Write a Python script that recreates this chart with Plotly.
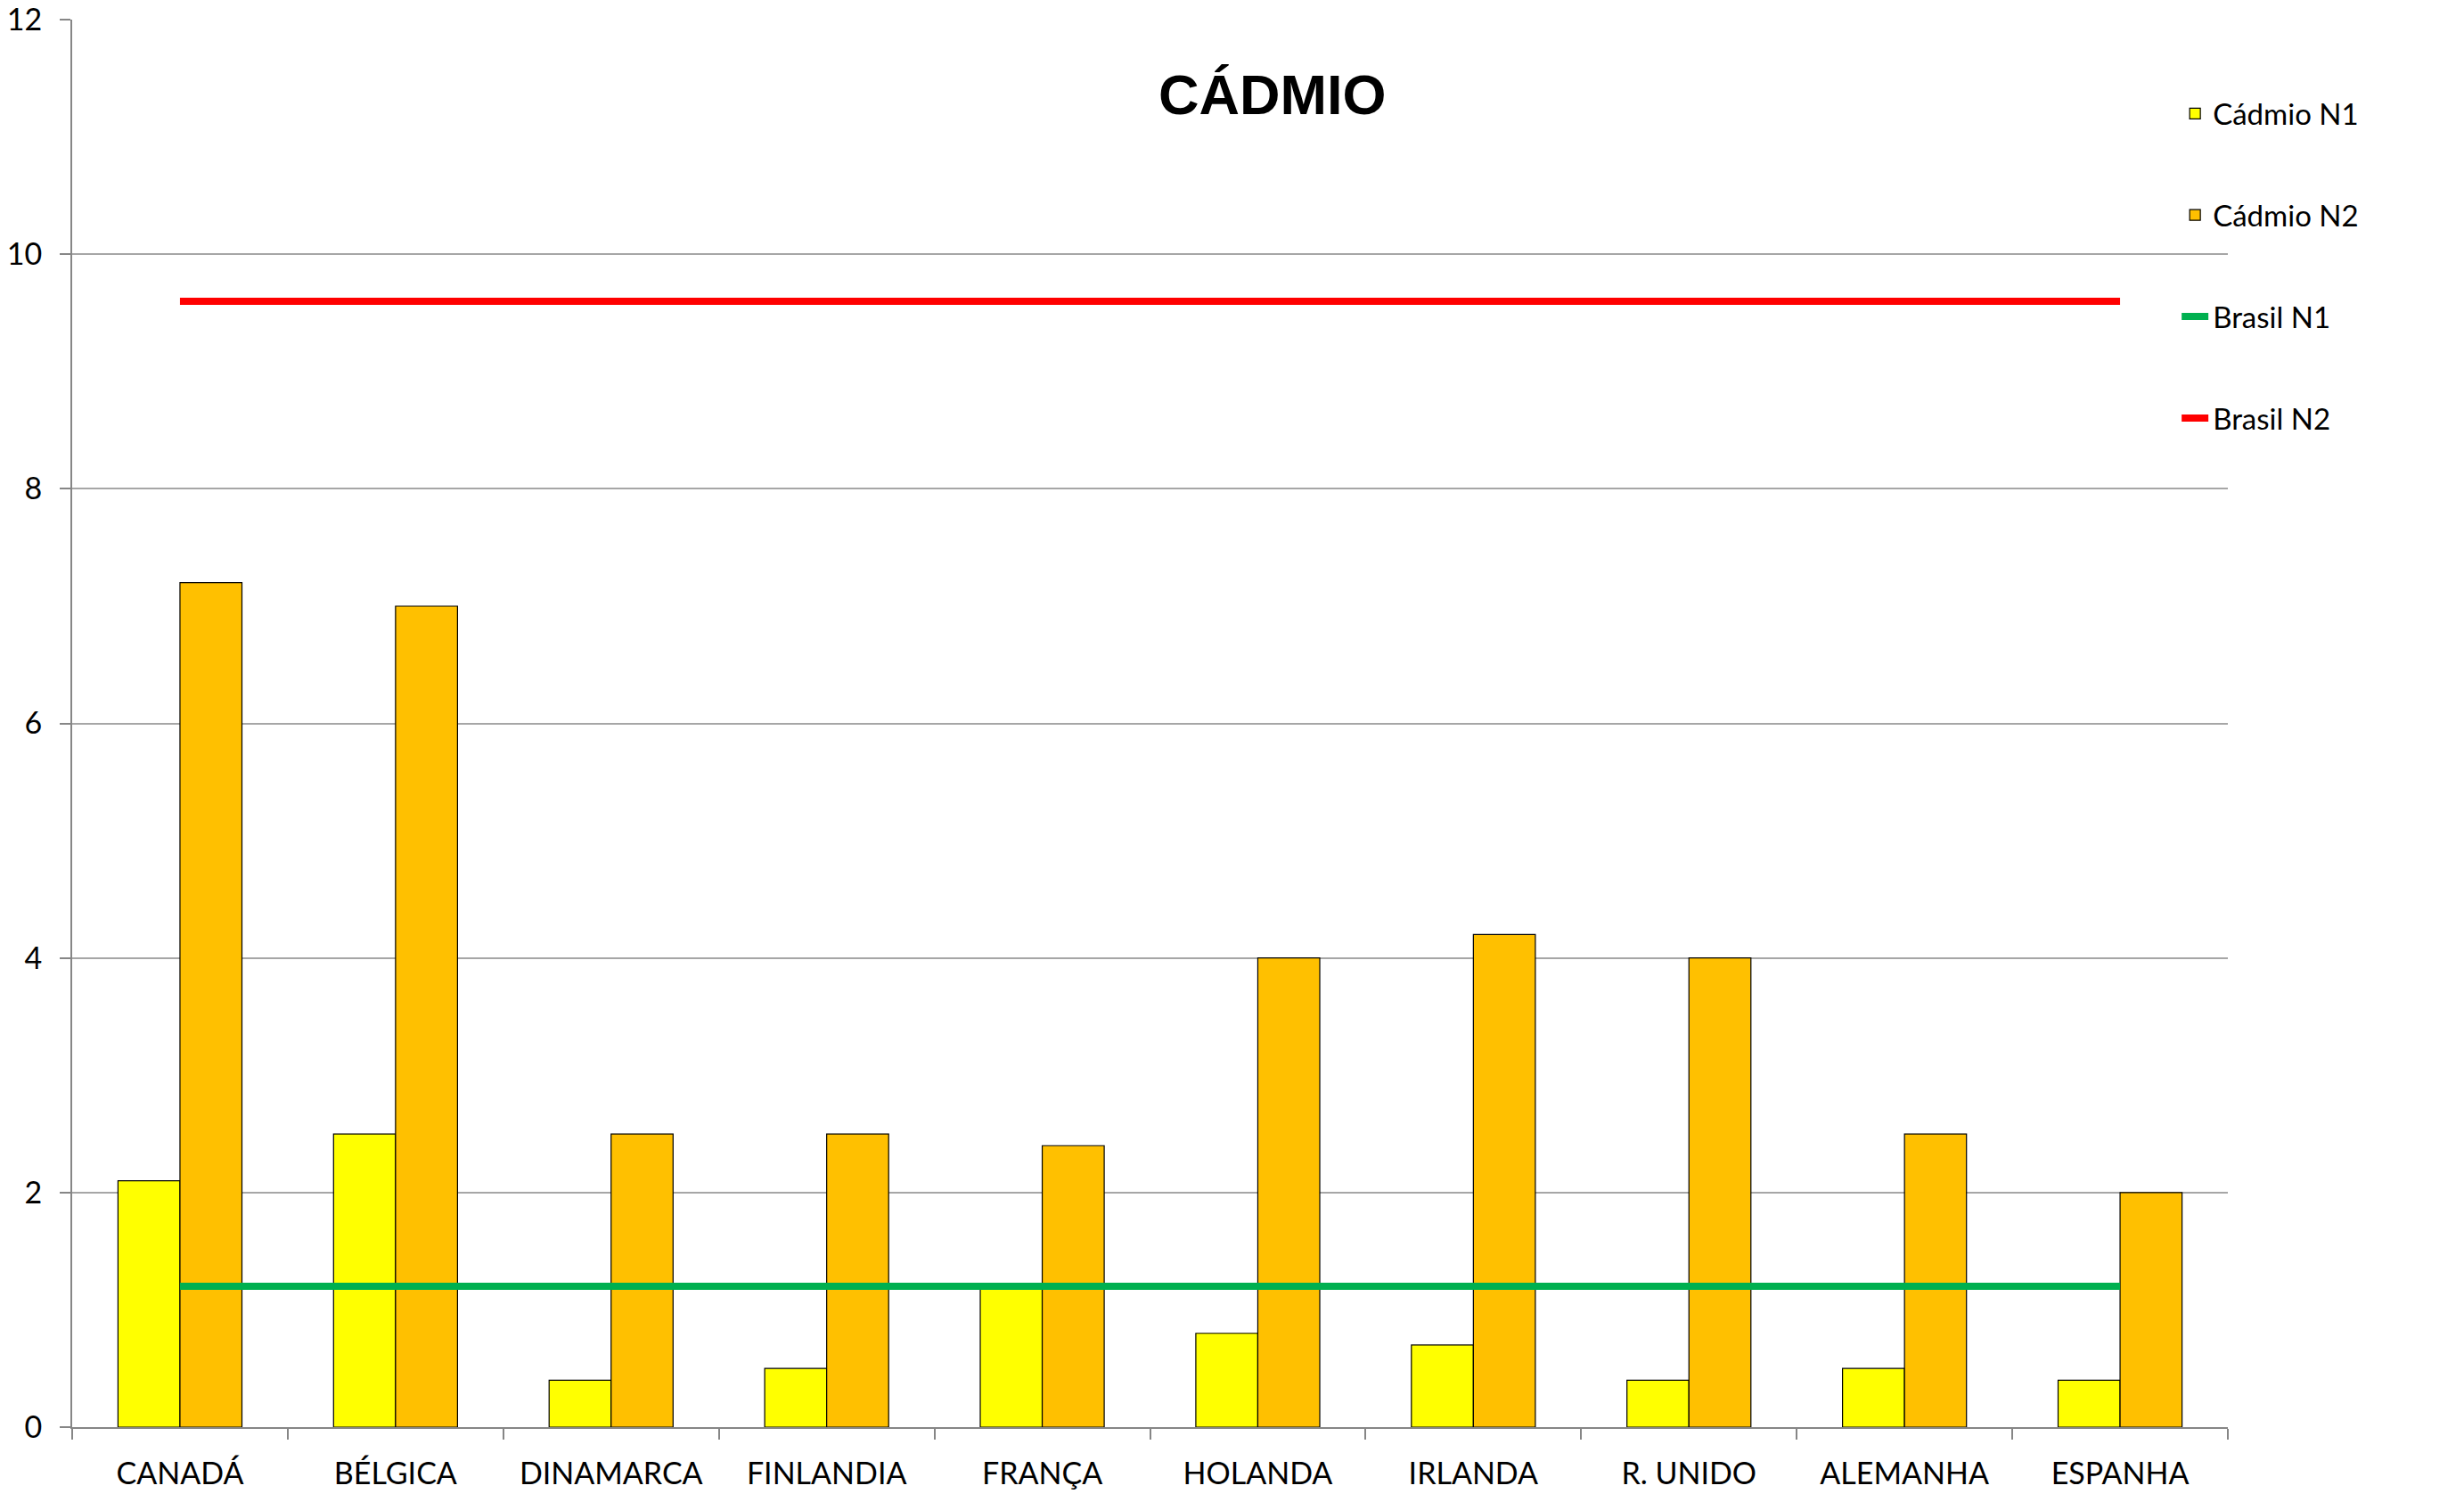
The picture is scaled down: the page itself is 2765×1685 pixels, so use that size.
import plotly.graph_objects as go

paises = ["CANADÁ", "BÉLGICA", "DINAMARCA", "FINLANDIA", "FRANÇA",
          "HOLANDA", "IRLANDA", "R. UNIDO", "ALEMANHA", "ESPANHA"]
cadmio_n1 = [2.1, 2.5, 0.4, 0.5, 1.2, 0.8, 0.7, 0.4, 0.5, 0.4]
cadmio_n2 = [7.2, 7.0, 2.5, 2.5, 2.4, 4.0, 4.2, 4.0, 2.5, 2.0]
brasil_n1 = [1.2] * len(paises)
brasil_n2 = [9.6] * len(paises)

font = "Lato, 'Open Sans', sans-serif"

fig = go.Figure()
fig.add_trace(go.Bar(x=paises, y=cadmio_n1, name="Cádmio N1", legendgroup="a",
                     marker=dict(color="#FFFF00", line=dict(color="#000000", width=1.2))))
fig.add_trace(go.Bar(x=paises, y=cadmio_n2, name="Cádmio N2", legendgroup="b",
                     marker=dict(color="#FFC000", line=dict(color="#000000", width=1.2))))
fig.add_trace(go.Scatter(x=paises, y=brasil_n1, name="Brasil N1", mode="lines", legendgroup="c",
                         line=dict(color="#00B050", width=8)))
fig.add_trace(go.Scatter(x=paises, y=brasil_n2, name="Brasil N2", mode="lines", legendgroup="d",
                         line=dict(color="#FF0000", width=8)))

# page body has an 8px margin, so size and margins are shifted by that much
fig.update_layout(
    width=2749, height=1669,
    plot_bgcolor="white", paper_bgcolor="white",
    margin=dict(l=73, r=257, t=14, b=76),
    barmode="group", bargap=0.425, bargroupgap=0,
    font=dict(family=font, size=34, color="#000000"),
    title=dict(text="<b>CÁDMIO</b>", x=0.5165, y=0.9413, xanchor="center", yanchor="middle",
               font=dict(family="Liberation Sans, Arial, sans-serif", size=63, color="#000000")),
    legend=dict(x=0.9765, y=0.951, xanchor="left", yanchor="top",
                tracegroupgap=68, itemwidth=30, bgcolor="rgba(0,0,0,0)",
                font=dict(size=33)),
)
fig.update_xaxes(showline=True, linecolor="#868686", linewidth=2, automargin=False,
                 ticks="outside", tickson="boundaries", ticklen=12, tickcolor="#868686",
                 tickwidth=1.5, showgrid=False, ticklabelstandoff=21)
fig.update_yaxes(range=[0, 12.001], tickvals=[0, 2, 4, 6, 8, 10, 12], showline=True,
                 linecolor="#868686", linewidth=2, automargin=False,
                 ticks="outside", ticklen=12, tickcolor="#868686", tickwidth=1.5,
                 showgrid=True, gridcolor="#A6A6A6", gridwidth=1.5, zeroline=False,
                 ticklabelstandoff=13, ticklabeloverflow="allow")

fig.write_html("out.html")
